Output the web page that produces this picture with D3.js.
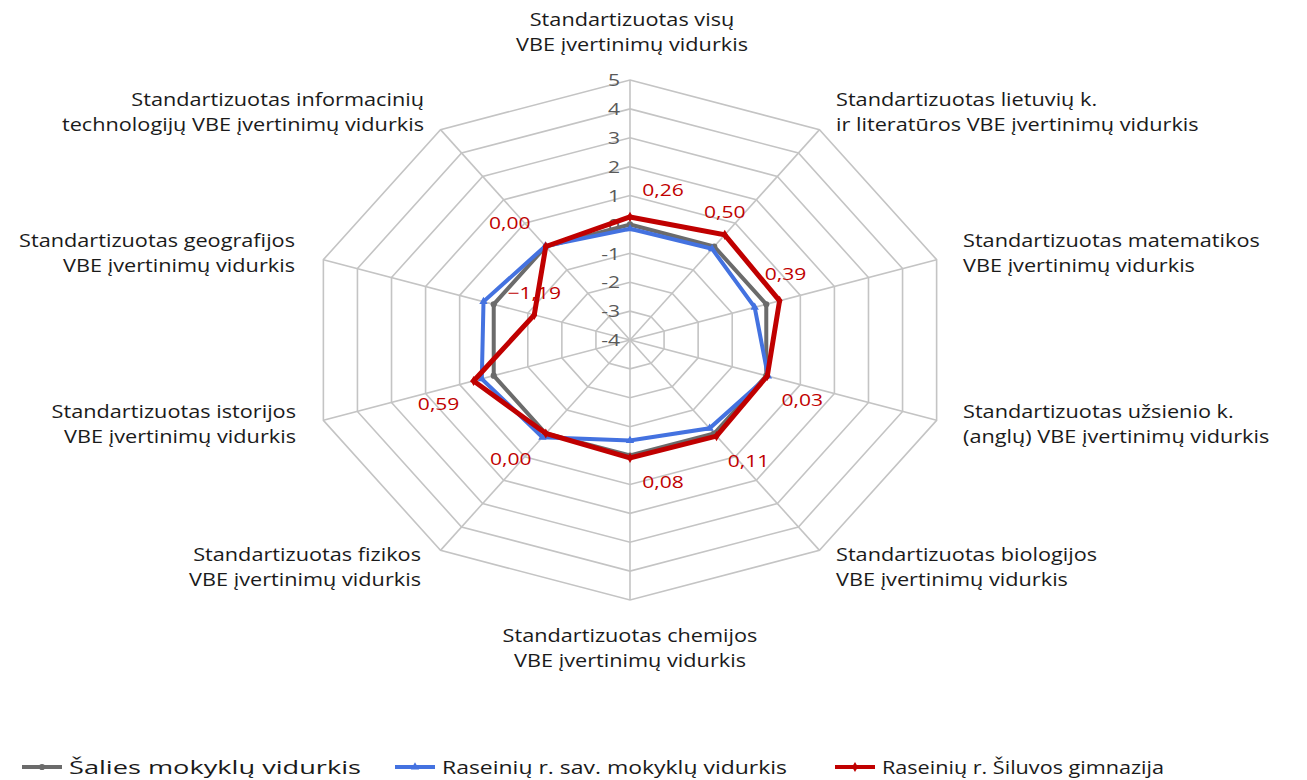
<!DOCTYPE html>
<html>
<head>
<meta charset="utf-8">
<script src="https://cdn.jsdelivr.net/npm/d3@7"></script>
<style>
  body { margin: 0; background: #fff; }
  text { font-family: "Open Sans", sans-serif; }
</style>
</head>
<body>
<div id="wrapper"></div>
<script>
// axis labels, clockwise from the top
const axisLabels = [
  ["Standartizuotas visų", "VBE įvertinimų vidurkis"],
  ["Standartizuotas lietuvių k.", "ir literatūros VBE įvertinimų vidurkis"],
  ["Standartizuotas matematikos", "VBE įvertinimų vidurkis"],
  ["Standartizuotas užsienio k.", "(anglų) VBE įvertinimų vidurkis"],
  ["Standartizuotas biologijos", "VBE įvertinimų vidurkis"],
  ["Standartizuotas chemijos", "VBE įvertinimų vidurkis"],
  ["Standartizuotas fizikos", "VBE įvertinimų vidurkis"],
  ["Standartizuotas istorijos", "VBE įvertinimų vidurkis"],
  ["Standartizuotas geografijos", "VBE įvertinimų vidurkis"],
  ["Standartizuotas informacinių", "technologijų VBE įvertinimų vidurkis"]
]

const seriesNames = ["Šalies mokyklų vidurkis", "Raseinių r. sav. mokyklų vidurkis", "Raseinių r. Šiluvos gimnazija"]
const salies = [0, 0, 0, 0, 0, 0, 0, 0, 0, 0]
const raseiniu = [-0.15, -0.10, -0.34, 0.05, -0.22, -0.52, 0.16, 0.35, 0.30, 0.02]
const siluvos = [0.26, 0.50, 0.39, 0.03, 0.11, 0.08, 0.00, 0.59, -1.19, 0.00]
const tickValues = [-4, -3, -2, -1, 0, 1, 2, 3, 4, 5]

// where the label for each axis sits and how it is anchored
const labelPlacement = [
  {x: 632, y: 20, anchor: "middle"},
  {x: 836, y: 100, anchor: "start"},
  {x: 963, y: 241, anchor: "start"},
  {x: 963, y: 412, anchor: "start"},
  {x: 836, y: 555, anchor: "start"},
  {x: 630, y: 636, anchor: "middle"},
  {x: 421, y: 555, anchor: "end"},
  {x: 296, y: 412, anchor: "end"},
  {x: 295, y: 241, anchor: "end"},
  {x: 424, y: 100, anchor: "end"}
]
// offsets of the red value labels from their points
const valueLabelOffset = [
  [33, -27], [0, -23], [6, -27], [35, 24], [32, 25],
  [33, 24], [-35, 25], [-35, 23], [0, -22], [-36, -24]
]

const colors = ["#6b6b6b", "#4472e0", "#c00000"]
const sx = 1.24 // horizontal stretch of the original picture

const dims = { width: 1307, height: 780, cx: 630, cy: 340, radius: 260 }

const svg = d3.select("#wrapper").append("svg")
  .attr("width", dims.width)
  .attr("height", dims.height)

const rScale = d3.scaleLinear().domain([-4, 5]).range([0, dims.radius])
const angle = i => i * 2 * Math.PI / axisLabels.length
const px = (i, v) => dims.cx + sx * rScale(v) * Math.sin(angle(i))
const py = (i, v) => dims.cy - rScale(v) * Math.cos(angle(i))

const grid = svg.append("g")
// rings
tickValues.slice(1).forEach(t => {
  grid.append("path")
    .attr("d", d3.line()(axisLabels.map((_, i) => [px(i, t), py(i, t)])) + "Z")
    .attr("fill", "none")
    .attr("stroke", "#c4c4c4")
    .attr("stroke-width", 1.6)
})
// spokes
axisLabels.forEach((_, i) => {
  grid.append("line")
    .attr("x1", px(i, -4)).attr("y1", py(i, -4))
    .attr("x2", px(i, 5)).attr("y2", py(i, 5))
    .attr("stroke", "#c4c4c4")
    .attr("stroke-width", 1.6)
})

// tick labels along the top spoke
svg.append("g").selectAll("text")
  .data(tickValues)
  .join("text")
  .attr("transform", d => `translate(${dims.cx - 10},${py(0, d)}) scale(${sx},1)`)
  .attr("text-anchor", "end")
  .attr("dominant-baseline", "central")
  .attr("font-size", 17)
  .attr("fill", "#595959")
  .text(d => d)

// axis labels
axisLabels.forEach((lines, i) => {
  const p = labelPlacement[i]
  const t = svg.append("text")
    .attr("transform", `translate(${p.x},${p.y}) scale(${sx},1)`)
    .attr("text-anchor", p.anchor)
    .attr("font-size", 17.5)
    .attr("fill", "#1a1a1a")
  lines.forEach((l, k) => {
    t.append("tspan").attr("x", 0).attr("y", k * 25).attr("dy", "0.35em").text(l)
  })
})

// series
const allSeries = [salies, raseiniu, siluvos]
const widths = [4, 4, 5]
const symbols = [d3.symbolCircle, d3.symbolTriangle, d3.symbolDiamond]
const lineGen = d3.line().x(d => d[0]).y(d => d[1])
allSeries.forEach((vals, s) => {
  const pts = vals.map((v, i) => [px(i, v), py(i, v)])
  svg.append("path")
    .attr("d", lineGen(pts) + "Z")
    .attr("fill", "none")
    .attr("stroke", colors[s])
    .attr("stroke-width", widths[s])
    .attr("stroke-linejoin", "miter")
  svg.append("g").selectAll("path")
    .data(pts)
    .join("path")
    .attr("transform", d => `translate(${d[0]},${d[1]})`)
    .attr("d", d3.symbol(symbols[s], 30))
    .attr("fill", colors[s])
})

// red value labels
svg.append("g").selectAll("text")
  .data(siluvos)
  .join("text")
  .attr("transform", (d, i) => `translate(${px(i, d) + valueLabelOffset[i][0]},${py(i, d) + valueLabelOffset[i][1]}) scale(${sx},1)`)
  .attr("text-anchor", "middle")
  .attr("dominant-baseline", "central")
  .attr("font-size", 17)
  .attr("fill", "#c00000")
  .text(d => d3.format(".2f")(d).replace(".", ","))

// legend
const legendX = [22, 395, 835]
const legendTextWidth = [292, 345, 282]
const legend = svg.append("g").attr("transform", "translate(0,767)")
seriesNames.forEach((name, s) => {
  const g = legend.append("g").attr("transform", `translate(${legendX[s]},0)`)
  g.append("line").attr("x1", 0).attr("x2", 40).attr("y1", 0).attr("y2", 0)
    .attr("stroke", colors[s]).attr("stroke-width", 4)
  g.append("path").attr("transform", "translate(20,0)")
    .attr("d", d3.symbol(symbols[s], 30))
    .attr("fill", colors[s])
  g.append("text")
    .attr("x", 47)
    .attr("y", 0)
    .attr("dominant-baseline", "central")
    .attr("font-size", 19)
    .attr("textLength", legendTextWidth[s])
    .attr("lengthAdjust", "spacingAndGlyphs")
    .attr("fill", "#1a1a1a")
    .text(name)
})
</script>
</body>
</html>
